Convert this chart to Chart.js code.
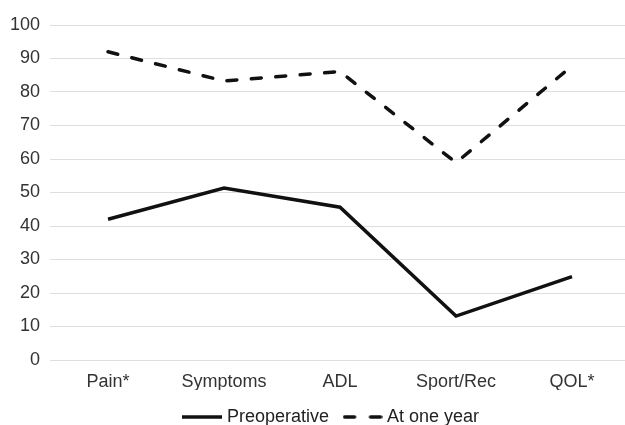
<!DOCTYPE html>
<html>
<head>
<meta charset="utf-8">
<script src="https://cdn.jsdelivr.net/npm/chart.js@4"></script>
<style>
  html, body { margin: 0; padding: 0; background: #fff; overflow: hidden; }
  #wrap { width: 630px; height: 436px; position: relative; }
</style>
</head>
<body>
<div id="wrap"><canvas id="c"></canvas></div>
<script>
const categories = ["Pain*", "Symptoms", "ADL", "Sport/Rec", "QOL*"];
const preoperative = [42, 51.3, 45.6, 13.1, 24.9];
const atOneYear = [92, 83.3, 86.1, 58.9, 87.8];
const yTicks = [0, 10, 20, 30, 40, 50, 60, 70, 80, 90, 100];

// legend swatches (40px line samples)
function swatch(dash) {
  const cv = document.createElement('canvas');
  cv.width = 40; cv.height = 6;
  const g = cv.getContext('2d');
  g.strokeStyle = '#111';
  g.lineWidth = 3.5;
  g.lineCap = dash ? 'round' : 'butt';
  g.beginPath();
  if (dash) {
    g.moveTo(2, 3); g.lineTo(12, 3);
    g.moveTo(28, 3); g.lineTo(38, 3);
  } else {
    g.moveTo(0, 3); g.lineTo(40, 3);
  }
  g.stroke();
  return cv;
}

const legendShift = {
  id: 'legendShift',
  afterLayout(chart) {
    if (chart.legend) { chart.legend.left += 18; chart.legend.right += 18; }
  }
};

new Chart(document.getElementById('c'), {
  type: 'line',
  data: {
    labels: categories,
    datasets: [
      {
        label: 'Preoperative',
        data: preoperative,
        borderColor: '#111',
        backgroundColor: '#111',
        borderWidth: 3.5,
        pointRadius: 0,
        pointStyle: swatch(false),
        tension: 0,
        fill: false
      },
      {
        label: 'At one year',
        data: atOneYear,
        borderColor: '#111',
        backgroundColor: '#111',
        borderWidth: 3.5,
        borderDash: [10, 14.5],
        borderCapStyle: 'round',
        pointRadius: 0,
        pointStyle: swatch(true),
        tension: 0,
        fill: false
      }
    ]
  },
  options: {
    responsive: true,
    maintainAspectRatio: false,
    animation: false,
    devicePixelRatio: 1,
    layout: { padding: { top: 25, left: 0, right: 0, bottom: 0 } },
    plugins: {
      tooltip: { enabled: false },
      legend: {
        display: true,
        position: 'bottom',
        labels: {
          usePointStyle: true,
          pointStyleWidth: 31,
          padding: 18,
          color: '#222',
          font: { family: 'Liberation Sans, Arial, sans-serif', size: 18 }
        }
      }
    },
    scales: {
      x: {
        offset: true,
        grid: { display: false, drawTicks: false },
        border: { display: false },
        ticks: {
          color: '#333',
          padding: 11,
          font: { family: 'Liberation Sans, Arial, sans-serif', size: 18 }
        },
        afterFit(scale) { scale.height = 30; }
      },
      y: {
        min: 0,
        max: 100,
        afterBuildTicks(scale) { scale.ticks = yTicks.map(v => ({ value: v })); },
        grid: { color: '#dedede', lineWidth: 1, drawTicks: false },
        border: { display: false },
        ticks: {
          color: '#333',
          padding: 10,
          font: { family: 'Liberation Sans, Arial, sans-serif', size: 18 }
        }
      }
    }
  },
  plugins: [legendShift]
});
</script>
</body>
</html>
